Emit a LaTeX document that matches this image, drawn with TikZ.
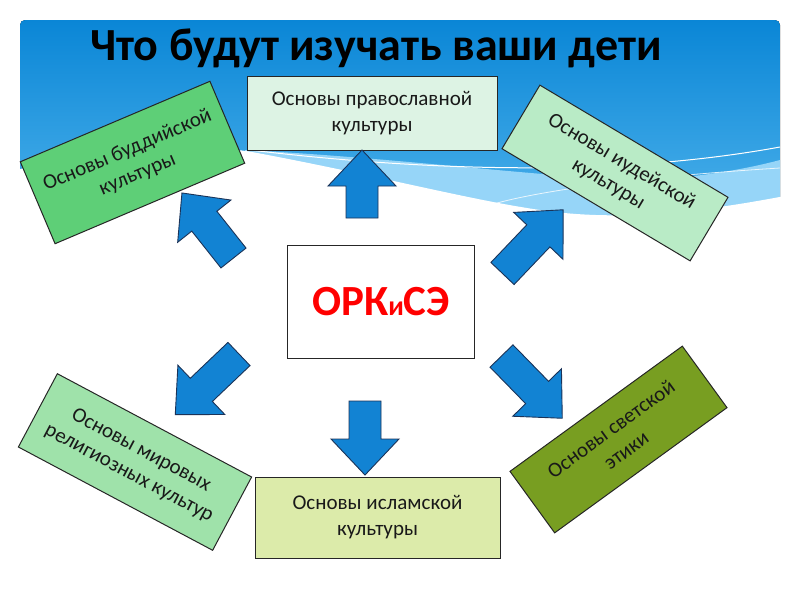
\documentclass[tikz,border=0pt]{standalone}
\usepackage{fontspec}
\setmainfont{Carlito}
\usetikzlibrary{calc}
\definecolor{skytop}{HTML}{0A86D6}
\definecolor{skybot}{HTML}{66C2F3}
\definecolor{skylight}{HTML}{96D5F8}
\definecolor{arrowblue}{HTML}{1283D3}
\definecolor{arrowline}{HTML}{1B3358}
\definecolor{boxtop}{HTML}{DDF3E4}
\definecolor{boxbottom}{HTML}{DCEBAA}
\definecolor{buddhagreen}{HTML}{5ECF77}
\definecolor{judgreen}{HTML}{B9EBC6}
\definecolor{worldgreen}{HTML}{9FE2AA}
\definecolor{ethicsolive}{HTML}{789E21}
\tikzset{
  card/.style={draw=black!85, line width=1pt, align=center, inner sep=2pt,
    font=\fontsize{21}{26}\selectfont, text=black!90},
  pics/blockarrow/.style={code={
    \fill[arrowblue, draw=arrowline, line width=0.9pt]
      (0,-16) -- ({#1-36},-16) -- ({#1-36},-34) -- (#1,0) -- ({#1-36},34)
      -- ({#1-36},16) -- (0,16) -- cycle;}}
}
\begin{document}
\begin{tikzpicture}[x=1pt,y=-1pt]
\useasboundingbox (0,0) rectangle (800,600);
% sky background
\fill[top color=skytop, bottom color=skybot, rounded corners=5pt] (20,20) rectangle (780,300);
\fill[skylight] (245,150) .. controls (400,158) and (550,178) .. (640,180)
  .. controls (700,178) and (750,168) .. (780,160) -- (780,300) -- (245,300) -- cycle;
\fill[white] (15,170) .. controls (120,150) and (200,143) .. (252,152)
  .. controls (380,176) and (470,200) .. (540,210)
  .. controls (620,222) and (700,212) .. (785,196) -- (785,305) -- (15,305) -- cycle;
\draw[white, line width=1pt] (250,150) .. controls (400,168) and (600,180) .. (780,147);
\draw[white, line width=0.8pt, opacity=0.8] (490,205) .. controls (540,190) and (650,176) .. (780,168);
% title
\node[anchor=base west, inner sep=0pt, font=\bfseries\fontsize{46}{46}\selectfont] (title) at (90,60) {Что будут изучать ваши дети};
% boxes
\node[card, fill=boxtop, minimum width=250pt, minimum height=74pt] (orth) at (372,113) {Основы православной\\культуры};
\node[card, fill=white, minimum width=187pt, minimum height=113pt, text=red,
  font=\bfseries\fontsize{43}{43}\selectfont] (orkse) at (381,301.5) {ОРК{\fontsize{28}{28}\selectfont и}СЭ};
\node[card, fill=boxbottom, minimum width=245pt, minimum height=81pt] (islam) at (377.5,517.5) {Основы исламской\\культуры};
\node[card, fill=buddhagreen, minimum width=206pt, minimum height=89pt, rotate=23] (buddh) at (132.5,162.5) {Основы буддийской\\культуры};
\node[card, fill=judgreen, minimum width=219pt, minimum height=74pt, rotate=-30.8] (jud) at (615,173) {Основы иудейской\\культуры};
\node[card, fill=worldgreen, minimum width=220pt, minimum height=83pt, rotate=-28] (world) at (135,462) {Основы мировых\\религиозных культур};
\node[card, fill=ethicsolive, minimum width=213pt, minimum height=76pt, rotate=36] (ethics) at (618.5,439.5) {Основы светской\\этики};
% arrows
\coordinate (aup) at (362,218);
\coordinate (adown) at (365,401);
\coordinate (aul) at (233.5,258);
\coordinate (aur) at (502.5,273.5);
\coordinate (all) at (239,354);
\coordinate (alr) at (501.5,356);
\pic[rotate=90] at (aup) {blockarrow=68};
\pic[rotate=-90] at (adown) {blockarrow=74};
\pic[rotate=128.4] at (aul) {blockarrow=83};
\pic[rotate=46.4] at (aur) {blockarrow=88};
\pic[rotate=223.6] at (all) {blockarrow=88};
\pic[rotate=-45.7] at (alr) {blockarrow=87};
\end{tikzpicture}
\end{document}
